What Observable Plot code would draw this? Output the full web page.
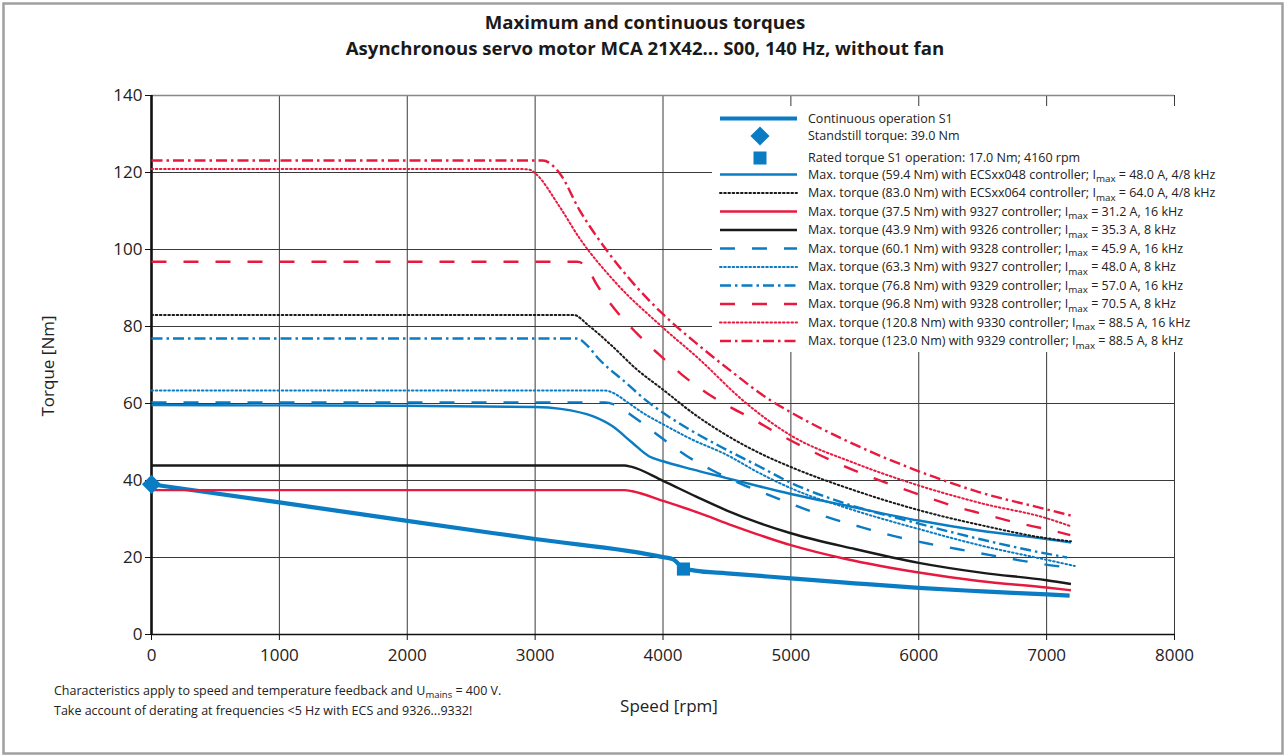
<!DOCTYPE html>
<html>
<head>
<meta charset="utf-8">
<script src="https://cdn.jsdelivr.net/npm/d3@7"></script>
<script src="https://cdn.jsdelivr.net/npm/@observablehq/plot@0.6"></script>
<style>
  html, body { margin: 0; padding: 0; background: #fff; }
  #chart { width: 1285px; height: 756px; }
</style>
</head>
<body>
<div id="chart"></div>
<script>
// ---------- data ----------
const xTicks = [0, 1000, 2000, 3000, 4000, 5000, 6000, 7000, 8000];
const yTicks = [0, 20, 40, 60, 80, 100, 120, 140];

const contSpeed  = [0, 1000, 2000, 3000, 4000, 4080, 4160, 4250, 4500, 5000, 5500, 6000, 6500, 7000, 7180];
const contTorque = [39.0, 34.3, 29.5, 24.8, 20.1, 19.5, 17.2, 16.6, 15.9, 14.6, 13.3, 12.1, 11.2, 10.4, 10.1];

const ecs048Speed  = [0, 1000, 2000, 3000, 3200, 3450, 3600, 3760, 3890, 4000, 4230, 4490, 4750, 5000, 5430, 6000, 6470, 7000, 7190];
const ecs048Torque = [59.6, 59.5, 59.4, 59.1, 58.6, 56.7, 54.2, 49.8, 46.3, 45.0, 42.9, 40.7, 38.5, 36.5, 33.5, 29.6, 27.0, 24.8, 23.9];

const ecs064Speed  = [0, 3300, 3420, 3600, 3790, 4000, 4230, 4490, 4750, 5000, 5500, 6000, 6500, 7000, 7190];
const ecs064Torque = [83.0, 83.0, 80.2, 75.0, 69.0, 63.6, 57.6, 51.9, 47.2, 43.5, 37.4, 32.3, 28.3, 25.0, 24.2];

const c9327hSpeed  = [0, 3700, 3760, 4000, 4280, 4545, 5000, 5430, 6000, 6470, 7000, 7190];
const c9327hTorque = [37.5, 37.5, 37.2, 34.7, 31.6, 28.3, 23.2, 19.6, 16.1, 13.9, 12.2, 11.5];

const c9326Speed  = [0, 3700, 3750, 4000, 4260, 4500, 4750, 5000, 5500, 6000, 6500, 7000, 7190];
const c9326Torque = [43.9, 43.9, 43.6, 39.9, 35.8, 32.2, 29.0, 26.3, 22.2, 18.6, 16.0, 14.1, 13.1];

const c9328hSpeed  = [0, 3550, 3620, 3780, 3980, 4180, 4400, 4620, 4860, 5100, 5310, 5550, 5800, 6060, 6300, 6560, 6800, 7050, 7150];
const c9328hTorque = [60.3, 60.3, 59.7, 56.3, 51.3, 46.5, 42.4, 39.0, 35.8, 32.7, 30.2, 27.9, 25.6, 23.7, 22.2, 20.6, 19.2, 17.9, 17.5];

const c9327lSpeed  = [0, 3540, 3620, 3710, 3860, 4000, 4230, 4490, 4750, 5000, 5500, 6000, 6500, 7000, 7220];
const c9327lTorque = [63.4, 63.4, 62.6, 60.6, 57.2, 54.6, 50.6, 46.8, 42.0, 38.0, 32.2, 27.4, 23.0, 19.4, 17.8];

const c9329hSpeed  = [0, 3330, 3400, 3500, 3710, 3860, 4000, 4230, 4490, 4750, 5000, 5430, 6000, 6500, 7000, 7160];
const c9329hTorque = [76.9, 76.9, 75.3, 71.5, 65.4, 61.0, 57.6, 52.8, 48.1, 43.7, 39.4, 34.0, 28.8, 24.6, 21.0, 20.0];

const c9328lSpeed  = [0, 3330, 3400, 3480, 3625, 3790, 3960, 4140, 4330, 4540, 4700, 4880, 5110, 5330, 5570, 5810, 6050, 6290, 6540, 6770, 7020, 7185];
const c9328lTorque = [96.8, 96.8, 95.6, 91.0, 84.4, 78.4, 73.0, 67.7, 63.0, 58.8, 56.0, 52.5, 48.5, 45.0, 41.6, 38.6, 35.8, 33.2, 31.0, 29.0, 27.2, 25.8];

const c9330Speed  = [0, 2900, 2960, 3000, 3190, 3346, 3630, 4000, 4284, 4635, 5000, 5500, 6000, 6500, 7000, 7190];
const c9330Torque = [120.9, 120.9, 120.7, 119.8, 111.2, 103.0, 91.4, 79.7, 71.5, 60.5, 51.7, 44.5, 38.7, 34.0, 30.2, 28.1];

const c9329lSpeed  = [0, 3060, 3190, 3346, 3555, 3763, 4000, 4284, 4544, 4805, 5000, 5430, 6000, 6470, 7000, 7188];
const c9329lTorque = [123.1, 123.1, 119.9, 110.3, 100.0, 91.4, 83.2, 75.0, 68.1, 61.6, 57.7, 50.4, 42.4, 37.0, 32.5, 30.9];

const standstill = [{speed: 0, torque: 39.0}];
const rated = [{speed: 4160, torque: 17.0}];

// ---------- styles ----------
const BLUE = "#0a7cc4", RED = "#e8193f", BLACK = "#1a1a1a";
const DOT = "1.6,2.6", DASH = "15,17", DASHDOT = "11,4,2.5,4";

const series = [
  {key: "cont", speed: contSpeed, torque: contTorque, color: BLUE, width: 4.2, dash: null,
   label: ["Continuous operation S1"]},
  {key: "ecs048", speed: ecs048Speed, torque: ecs048Torque, color: BLUE, width: 2.4, dash: null,
   label: ["Max. torque (59.4 Nm) with ECSxx048 controller; I", "max", " = 48.0 A, 4/8 kHz"]},
  {key: "ecs064", speed: ecs064Speed, torque: ecs064Torque, color: BLACK, width: 2, dash: DOT,
   label: ["Max. torque (83.0 Nm) with ECSxx064 controller; I", "max", " = 64.0 A, 4/8 kHz"]},
  {key: "9327h", speed: c9327hSpeed, torque: c9327hTorque, color: RED, width: 2.4, dash: null,
   label: ["Max. torque (37.5 Nm) with 9327 controller; I", "max", " = 31.2 A, 16 kHz"]},
  {key: "9326", speed: c9326Speed, torque: c9326Torque, color: BLACK, width: 2.4, dash: null,
   label: ["Max. torque (43.9 Nm) with 9326 controller; I", "max", " = 35.3 A, 8 kHz"]},
  {key: "9328h", speed: c9328hSpeed, torque: c9328hTorque, color: BLUE, width: 2.4, dash: DASH,
   label: ["Max. torque (60.1 Nm) with 9328 controller; I", "max", " = 45.9 A, 16 kHz"]},
  {key: "9327l", speed: c9327lSpeed, torque: c9327lTorque, color: BLUE, width: 2, dash: DOT,
   label: ["Max. torque (63.3 Nm) with 9327 controller; I", "max", " = 48.0 A, 8 kHz"]},
  {key: "9329h", speed: c9329hSpeed, torque: c9329hTorque, color: BLUE, width: 2.4, dash: DASHDOT,
   label: ["Max. torque (76.8 Nm) with 9329 controller; I", "max", " = 57.0 A, 16 kHz"]},
  {key: "9328l", speed: c9328lSpeed, torque: c9328lTorque, color: RED, width: 2.4, dash: DASH,
   label: ["Max. torque (96.8 Nm) with 9328 controller; I", "max", " = 70.5 A, 8 kHz"]},
  {key: "9330", speed: c9330Speed, torque: c9330Torque, color: RED, width: 2, dash: DOT,
   label: ["Max. torque (120.8 Nm) with 9330 controller; I", "max", " = 88.5 A, 16 kHz"]},
  {key: "9329l", speed: c9329lSpeed, torque: c9329lTorque, color: RED, width: 2.4, dash: DASHDOT,
   label: ["Max. torque (123.0 Nm) with 9329 controller; I", "max", " = 88.5 A, 8 kHz"]}
];

const FONT = "'Open Sans', 'Noto Sans', sans-serif";

const lineMarks = series.map(s => Plot.line(
  s.speed.map((v, i) => ({speed: v, torque: s.torque[i]})),
  {x: "speed", y: "torque", stroke: s.color, strokeWidth: s.width,
   strokeDasharray: s.dash || undefined, curve: "monotone-x",
   strokeLinecap: s.dash === DOT ? "round" : "butt", strokeLinejoin: "round"}
));

const chart = Plot.plot({
  width: 1285, height: 756,
  marginLeft: 151, marginRight: 111, marginTop: 95, marginBottom: 122,
  x: {domain: [0, 8000]},
  y: {domain: [0, 140]},
  style: {fontFamily: FONT, fontSize: "17px", color: "#222", background: "#fff", overflow: "visible"},
  marks: [
    Plot.ruleX(xTicks, {x: d => d, stroke: "#3a3a3a", strokeWidth: 1}),
    Plot.ruleY(yTicks, {y: d => d, stroke: "#3a3a3a", strokeWidth: 1}),
    Plot.ruleY([140], {stroke: "#888", strokeWidth: 1.5}),
    Plot.axisX({ticks: xTicks, tickSize: 6, tickPadding: 8, label: null, fontSize: 17, tickFormat: d => String(d), stroke: "#111"}),
    Plot.axisY({ticks: yTicks, tickSize: 6, tickPadding: 3, label: null, fontSize: 17, tickFormat: d => String(d), stroke: "#111"}),
    Plot.ruleY([0], {stroke: "#111", strokeWidth: 1.6}),
    Plot.ruleX([0], {stroke: "#111", strokeWidth: 2.6}),
    ...lineMarks,
    Plot.dot(standstill, {x: "speed", y: "torque", symbol: "diamond2", r: 8.6, fill: BLUE, stroke: "none"}),
    Plot.dot(rated, {x: "speed", y: "torque", symbol: "square", r: 7.4, fill: BLUE, stroke: "none"})
  ]
});

document.getElementById("chart").appendChild(chart);

// ---------- annotations: titles, axis titles, legend, notes, border ----------
const svg = d3.select(chart);

svg.append("rect").attr("x", 3.5).attr("y", 3.5).attr("width", 1279).attr("height", 750)
  .attr("fill", "none").attr("stroke", "#a0a0a0").attr("stroke-width", 2.5);

const title = svg.append("g").attr("font-family", FONT).attr("font-weight", "bold")
  .attr("font-size", 18.6).attr("fill", "#1a1a1a").attr("text-anchor", "middle");
title.append("text").attr("x", 645).attr("y", 29).text("Maximum and continuous torques");
title.append("text").attr("x", 645).attr("y", 55).text("Asynchronous servo motor MCA 21X42... S00, 140 Hz, without fan");

svg.append("text").attr("font-family", FONT).attr("font-size", 17).attr("fill", "#222")
  .attr("text-anchor", "middle").attr("transform", "translate(54,366) rotate(-90)").text("Torque [Nm]");
svg.append("text").attr("font-family", FONT).attr("font-size", 17).attr("fill", "#222")
  .attr("text-anchor", "middle").attr("x", 669).attr("y", 712).text("Speed [rpm]");

const note = svg.append("g").attr("font-family", FONT).attr("font-size", 12.5)
  .attr("fill", "#222").attr("text-anchor", "start");
const n1 = note.append("text").attr("x", 54).attr("y", 695);
n1.append("tspan").text("Characteristics apply to speed and temperature feedback and U");
n1.append("tspan").attr("font-size", 9.5).attr("dy", 3).text("mains");
n1.append("tspan").attr("dy", -3).text(" = 400 V.");
note.append("text").attr("x", 54).attr("y", 715).text("Take account of derating at frequencies <5 Hz with ECS and 9326...9332!");

// legend
const lg = svg.append("g").attr("font-family", FONT).attr("font-size", 12.5)
  .attr("fill", "#222").attr("text-anchor", "start");
lg.append("rect").attr("x", 712).attr("y", 106).attr("width", 520).attr("height", 246).attr("fill", "#fff");
const rowY = [118.5, 136, 158, 174.5, 193, 211.5, 230, 248.5, 267, 285.5, 304, 322.5, 341];
const L0 = 720, L1 = 797, TX = 808;
function addLabel(y, parts) {
  const t = lg.append("text").attr("x", TX).attr("y", y + 4.3);
  t.append("tspan").text(parts[0]);
  if (parts.length > 1) {
    t.append("tspan").attr("font-size", 9.8).attr("dy", 3.5).text(parts[1]);
    t.append("tspan").attr("dy", -3.5).text(parts[2]);
  }
}
const drawLegendLine = (s, y) => {
  lg.append("line").attr("x1", L0).attr("x2", L1).attr("y1", y).attr("y2", y)
    .attr("stroke", s.color).attr("stroke-width", s.width)
    .attr("stroke-dasharray", s.dash || null)
    .attr("stroke-linecap", s.dash === DOT ? "round" : "butt");
};
drawLegendLine(series[0], rowY[0]);
addLabel(rowY[0], series[0].label);
lg.append("path").attr("d", d3.symbol(d3.symbolDiamond2, Math.PI * 8.6 * 8.6)())
  .attr("transform", `translate(760,${rowY[1]})`).attr("fill", BLUE);
addLabel(rowY[1], ["Standstill torque: 39.0 Nm"]);
lg.append("rect").attr("x", 753.5).attr("y", rowY[2] - 6.5).attr("width", 13).attr("height", 13).attr("fill", BLUE);
addLabel(rowY[2], ["Rated torque S1 operation: 17.0 Nm; 4160 rpm"]);
series.slice(1).forEach((s, i) => {
  const y = rowY[i + 3];
  drawLegendLine(s, y);
  addLabel(y, s.label);
});
</script>
</body>
</html>
